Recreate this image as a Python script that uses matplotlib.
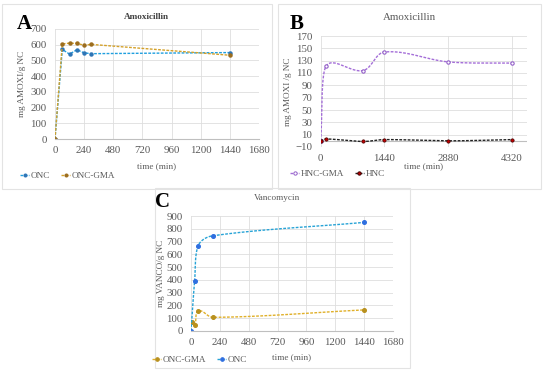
import matplotlib.pyplot as plt
import numpy as np
from matplotlib.patches import Rectangle
from matplotlib.lines import Line2D

plt.rcParams['font.family'] = ['Liberation Serif', 'DejaVu Serif']

W, H = 550, 376

# Panel A: amoxicillin, ONC vs ONC-GMA
a_time = [0, 60, 120, 180, 240, 300, 1440]
a_onc = [0, 570, 540, 568, 548, 543, 550]
a_gma = [0, 605, 610, 608, 597, 602, 533]

# Panel B: amoxicillin, HNC-GMA vs HNC
b_time = [0, 120, 960, 1440, 2880, 4320]
b_hnc_gma = [0, 121, 114, 144, 128, 126]
b_hnc = [0, 3, -1, 2, 0, 2]

# Panel C: vancomycin
c_time_onc = [0, 30, 60, 180, 1440]
c_onc = [0, 390, 668, 745, 850]
c_time_gma = [12, 30, 60, 180, 1440]
c_gma = [73, 47, 156, 107, 165]

GRID = '#dedede'
TXT = '#595959'
DASH = (0, (2, 1))


def smooth(ax, x, y, n=30):
    # smoothed line like Excel's, built in pixel space so the bends look right
    left, right, top, bottom = ax.px
    x0, x1 = ax.get_xlim()
    y0, y1 = ax.get_ylim()
    kx = (right - left) / (x1 - x0)
    ky = (bottom - top) / (y1 - y0)
    p = np.column_stack([np.asarray(x, float) * kx, np.asarray(y, float) * ky])
    m = len(p)
    tang = np.zeros_like(p)
    for i in range(m):
        d = p[min(i + 1, m - 1)] - p[max(i - 1, 0)]
        tang[i] = d / (np.hypot(*d) + 1e-9)
    xs, ys = [], []
    t = np.linspace(0, 1, n)[:, None]
    for i in range(m - 1):
        p1, p2 = p[i], p[i + 1]
        L = np.hypot(*(p2 - p1)) / 3
        dx = p2[0] - p1[0]
        # keep control points between the two x values
        L1 = min(L, dx / (abs(tang[i][0]) + 1e-9))
        L2 = min(L, dx / (abs(tang[i + 1][0]) + 1e-9))
        c1 = p1 + tang[i] * L1
        c2 = p2 - tang[i + 1] * L2
        pts = ((1 - t) ** 3 * p1 + 3 * (1 - t) ** 2 * t * c1
               + 3 * (1 - t) * t ** 2 * c2 + t ** 3 * p2)
        xs.extend(pts[:, 0] / kx)
        ys.extend(pts[:, 1] / ky)
    return xs, ys


def fx(px):
    return px / W


def fy(py):
    return 1 - py / H


def add_axes_px(left, right, top, bottom):
    ax = fig.add_axes([fx(left), fy(bottom), (right - left) / W, (bottom - top) / H])
    ax.px = (left, right, top, bottom)
    return ax


def style(ax, xt, yt, xlim, ylim, ylabel, ylab_x, xlab_y):
    left, right, top, bottom = ax.px
    ax.set_xlim(*xlim)
    ax.set_ylim(*ylim)
    ax.set_xticks(xt)
    ax.set_yticks(yt)
    ax.grid(True, color=GRID, lw=0.6)
    ax.set_axisbelow(True)
    for s in ['top', 'right', 'left']:
        ax.spines[s].set_visible(False)
    ax.spines['bottom'].set_color('#bfbfbf')
    ax.tick_params(length=0, labelsize=7.8, labelcolor=TXT)
    ax.tick_params(axis='y', pad=6)
    ax.tick_params(axis='x', pad=5)
    ax.set_ylabel(ylabel, fontsize=6.6, color=TXT, va='center')
    ax.yaxis.set_label_coords((ylab_x - left) / (right - left), 0.5)
    ax.set_xlabel('time (min)', fontsize=6.6, color=TXT, va='center')
    ax.xaxis.set_label_coords(0.5, (bottom - xlab_y) / (bottom - top))


def box(l, t, r, b):
    fig.patches.append(Rectangle((fx(l), fy(b)), (r - l) / W, (b - t) / H,
                                 transform=fig.transFigure, fill=False,
                                 ec='#e3e3e3', lw=0.8))


def legend(handles, labels, x, y):
    fig.legend(handles, labels, loc='center left', bbox_to_anchor=(fx(x), fy(y)),
               ncol=2, frameon=False, fontsize=6.6, handlelength=1.0,
               handletextpad=0.15, columnspacing=1.2, borderaxespad=0,
               borderpad=0, labelcolor=TXT)


def handle(color, mfc, mec, ms=2.4):
    return Line2D([], [], ls=DASH, color=color, lw=1.0, marker='o', ms=ms,
                  mfc=mfc, mec=mec, mew=0.7)


fig = plt.figure(figsize=(W / 100, H / 100), dpi=100)

box(2, 4, 272, 189)
box(278, 4, 541, 189)
box(155, 188, 410, 368)

# ---- A ----
ax = add_axes_px(55, 259, 29, 139)
style(ax, np.arange(0, 1681, 240), np.arange(0, 701, 100), (0, 1680), (0, 700),
      'mg AMOXI/g NC', 22, 166)
ax.plot(a_time, a_onc, ls=DASH, color='#1f9fdf', lw=1.0,
        marker='o', ms=2.2, mfc='#2e75b6', mec='#2e75b6')
ax.plot(a_time, a_gma, ls=DASH, color='#d4a12a', lw=1.0,
        marker='o', ms=2.2, mfc='#9c6d1e', mec='#9c6d1e')
legend([handle('#1f9fdf', '#2e75b6', '#2e75b6', 2.2),
        handle('#d4a12a', '#9c6d1e', '#9c6d1e', 2.2)],
       ['ONC', 'ONC-GMA'], 20, 176)
fig.text(fx(146), fy(17), 'Amoxicillin', fontsize=6.6, fontweight='bold',
         color='#404040', ha='center', va='center')
fig.text(fx(17), fy(24), 'A', fontsize=15, fontweight='bold', va='center')

# ---- B ----
ax = add_axes_px(320.7, 526.6, 36, 147)
style(ax, [0, 1440, 2880, 4320], np.arange(-10, 171, 20), (0, 4650), (-10, 170),
      'mg AMOXI /g NC', 288, 166)
ax.spines['bottom'].set_visible(False)
ax.axhline(0, color='#bfbfbf', lw=0.8)
sx, sy = smooth(ax, b_time, b_hnc_gma)
ax.plot(sx, sy, ls=DASH, color='#a46ed8', lw=1.0)
ax.plot(b_time, b_hnc_gma, 'o', ms=2.4, mfc='white', mec='#9360c8', mew=0.8)
sx, sy = smooth(ax, b_time, b_hnc)
ax.plot(sx, sy, ls=DASH, color='#222222', lw=1.0)
ax.plot(b_time, b_hnc, 'o', ms=2.4, mfc='#c00000', mec='#400000', mew=0.5)
legend([handle('#a46ed8', 'white', '#9360c8'),
        handle('#222222', '#c00000', '#400000')],
       ['HNC-GMA', 'HNC'], 290, 174)
fig.text(fx(409), fy(17), 'Amoxicillin', fontsize=7.8, color=TXT,
         ha='center', va='center')
fig.text(fx(290), fy(24), 'B', fontsize=15, fontweight='bold', va='center')

# ---- C ----
ax = add_axes_px(191, 393, 216, 331)
style(ax, np.arange(0, 1681, 240), np.arange(0, 901, 100), (0, 1680), (0, 900),
      'mg VANCO/g NC', 161, 357)
sx, sy = smooth(ax, c_time_gma, c_gma)
ax.plot(sx, sy, ls=DASH, color='#e0b02a', lw=1.0)
ax.plot(c_time_gma, c_gma, 'o', ms=2.6, mfc='#b8901e', mec='#b8901e')
sx, sy = smooth(ax, c_time_onc, c_onc)
ax.plot(sx, sy, ls=DASH, color='#27a3d6', lw=1.0)
ax.plot(c_time_onc, c_onc, 'o', ms=2.6, mfc='#2f6fe0', mec='#2f6fe0')
legend([handle('#e0b02a', '#b8901e', '#b8901e', 2.6),
        handle('#27a3d6', '#2f6fe0', '#2f6fe0', 2.6)],
       ['ONC-GMA', 'ONC'], 152, 360)
fig.text(fx(277), fy(198), 'Vancomycin', fontsize=6.6, color=TXT,
         ha='center', va='center')
fig.text(fx(155), fy(202), 'C', fontsize=15, fontweight='bold', va='center')

fig.savefig('out.png', dpi=100)
